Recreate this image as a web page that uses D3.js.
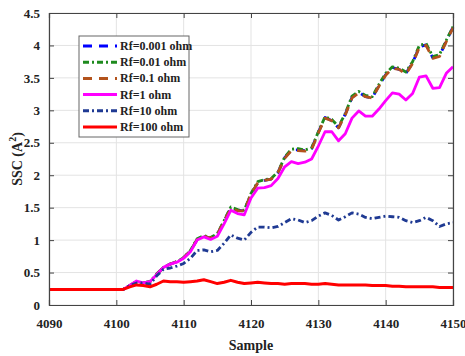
<!DOCTYPE html>
<html>
<head>
<meta charset="utf-8">
<script src="https://cdn.jsdelivr.net/npm/d3@7"></script>
<style>
  body { margin: 0; background: #fff; }
  svg text { font-family: "Liberation Serif", "Times New Roman", serif; font-weight: bold; }
</style>
</head>
<body>
<svg id="chart" width="465" height="356"></svg>
<script>
// data
const samples = d3.range(4090, 4151);
const flat = [0.24, 0.24, 0.24, 0.24, 0.24, 0.24, 0.24, 0.24, 0.24, 0.24, 0.24, 0.24]; // 4090..4101

const rf0001 = flat.concat([0.30, 0.36, 0.34, 0.36, 0.47, 0.58, 0.63, 0.67, 0.73, 0.83, 1.01, 1.06, 1.03, 1.09, 1.29, 1.50, 1.46, 1.45, 1.71, 1.88, 1.92, 1.94, 2.04, 2.27, 2.39, 2.39, 2.38, 2.41, 2.66, 2.89, 2.84, 2.73, 2.94, 3.20, 3.28, 3.21, 3.19, 3.38, 3.55, 3.66, 3.63, 3.57, 3.73, 3.98, 4.01, 3.81, 3.84, 4.07, 4.28]);
const rf001 = flat.concat([0.30, 0.36, 0.34, 0.36, 0.48, 0.58, 0.63, 0.67, 0.73, 0.84, 1.02, 1.07, 1.04, 1.10, 1.30, 1.51, 1.47, 1.46, 1.72, 1.90, 1.93, 1.95, 2.05, 2.28, 2.40, 2.41, 2.39, 2.42, 2.67, 2.90, 2.86, 2.75, 2.95, 3.22, 3.29, 3.23, 3.21, 3.40, 3.57, 3.67, 3.65, 3.59, 3.75, 4.00, 4.03, 3.83, 3.86, 4.08, 4.29]);
const rf01 = flat.concat([0.30, 0.36, 0.34, 0.36, 0.47, 0.58, 0.63, 0.67, 0.73, 0.83, 1.01, 1.06, 1.03, 1.09, 1.29, 1.49, 1.45, 1.45, 1.71, 1.88, 1.92, 1.94, 2.04, 2.26, 2.38, 2.38, 2.37, 2.40, 2.65, 2.88, 2.84, 2.73, 2.93, 3.19, 3.27, 3.21, 3.19, 3.37, 3.54, 3.65, 3.63, 3.56, 3.72, 3.97, 4.00, 3.80, 3.83, 4.06, 4.27]);
const rf1 = flat.concat([0.30, 0.37, 0.34, 0.36, 0.47, 0.58, 0.63, 0.66, 0.72, 0.82, 1.00, 1.05, 1.01, 1.06, 1.25, 1.46, 1.41, 1.39, 1.65, 1.80, 1.81, 1.84, 1.95, 2.13, 2.21, 2.18, 2.20, 2.25, 2.45, 2.67, 2.67, 2.53, 2.64, 2.88, 2.99, 2.91, 2.91, 3.02, 3.15, 3.27, 3.25, 3.16, 3.26, 3.51, 3.53, 3.34, 3.35, 3.57, 3.67]);
const rf10 = flat.concat([0.30, 0.34, 0.34, 0.32, 0.45, 0.55, 0.57, 0.60, 0.64, 0.72, 0.84, 0.85, 0.82, 0.84, 0.95, 1.08, 1.03, 1.00, 1.12, 1.20, 1.20, 1.19, 1.21, 1.27, 1.33, 1.31, 1.27, 1.30, 1.37, 1.42, 1.38, 1.31, 1.36, 1.42, 1.40, 1.35, 1.33, 1.35, 1.37, 1.36, 1.35, 1.30, 1.27, 1.30, 1.35, 1.30, 1.21, 1.25, 1.27]);
const rf100 = flat.concat([0.28, 0.31, 0.30, 0.28, 0.32, 0.37, 0.36, 0.36, 0.35, 0.36, 0.37, 0.39, 0.36, 0.33, 0.35, 0.38, 0.35, 0.33, 0.34, 0.35, 0.34, 0.33, 0.33, 0.32, 0.33, 0.33, 0.33, 0.32, 0.32, 0.33, 0.32, 0.31, 0.31, 0.31, 0.31, 0.31, 0.30, 0.30, 0.30, 0.29, 0.29, 0.28, 0.28, 0.28, 0.28, 0.28, 0.27, 0.27, 0.27]);

const seriesNames = ["Rf=0.001 ohm", "Rf=0.01 ohm", "Rf=0.1 ohm", "Rf=1 ohm", "Rf=10 ohm", "Rf=100 ohm"];
const seriesValues = [rf0001, rf001, rf01, rf1, rf10, rf100];
const seriesColors = ["#0000ff", "#1e8a1e", "#b3531c", "#ff00ff", "#1f3a93", "#ff0000"];
const seriesDash = ["9,7", "6,3,2,3", "9,7", null, "6,3,2,3", null];

const xTicks = d3.range(4090, 4151, 10);
const yTicks = d3.range(0, 4.51, 0.5);

// layout
const svg = d3.select("#chart");
const mLeft = 49, mRight = 453, mTop = 13, mBottom = 305;

const x = d3.scaleLinear().domain([4090, 4150]).range([mLeft, mRight]);
const y = d3.scaleLinear().domain([0, 4.5]).range([mBottom, mTop]);

// grid
svg.append("g").selectAll("line").data(xTicks).enter().append("line")
  .attr("x1", d => x(d)).attr("x2", d => x(d))
  .attr("y1", mTop).attr("y2", mBottom)
  .attr("stroke", "#e3e3e3").attr("stroke-width", 1);
svg.append("g").selectAll("line").data(yTicks).enter().append("line")
  .attr("x1", mLeft).attr("x2", mRight)
  .attr("y1", d => y(d)).attr("y2", d => y(d))
  .attr("stroke", "#e3e3e3").attr("stroke-width", 1);

// lines
const line = d3.line().x((d, i) => x(samples[i])).y(d => y(d));
seriesValues.forEach((vals, k) => {
  svg.append("path")
    .datum(vals)
    .attr("d", line)
    .attr("fill", "none")
    .attr("stroke", seriesColors[k])
    .attr("stroke-width", k === 5 ? 3 : 2.8)
    .attr("stroke-dasharray", seriesDash[k])
    .attr("stroke-linejoin", "round");
});

// axes (ticks inside)
const axColor = "#444";
svg.append("g").attr("transform", `translate(0,${mBottom})`)
  .call(d3.axisBottom(x).tickValues(xTicks).tickSize(-5).tickPadding(14).tickFormat(d3.format("d")));
svg.append("g").attr("transform", `translate(${mLeft},0)`)
  .call(d3.axisLeft(y).tickValues(yTicks).tickSize(-5).tickPadding(9).tickFormat(d => d3.format("")(d)));
svg.append("g").attr("transform", `translate(0,${mTop})`)
  .call(d3.axisTop(x).tickValues(xTicks).tickSize(-5).tickFormat(""));
svg.append("g").attr("transform", `translate(${mRight},0)`)
  .call(d3.axisRight(y).tickValues(yTicks).tickSize(-5).tickFormat(""));

svg.selectAll(".domain").attr("stroke", axColor).attr("stroke-width", 1.2);
svg.selectAll(".tick line").attr("stroke", axColor);
svg.selectAll(".tick text").attr("fill", "#222").style("font-size", "13px");

// axis labels
svg.append("text")
  .attr("x", (mLeft + mRight) / 2).attr("y", 350)
  .attr("text-anchor", "middle")
  .style("font-size", "14px").attr("fill", "#222")
  .text("Sample");

const yl = svg.append("text")
  .attr("transform", "translate(22,159) rotate(-90)")
  .attr("text-anchor", "middle")
  .style("font-size", "14px").attr("fill", "#222");
yl.append("tspan").text("SSC (A");
yl.append("tspan").attr("dy", -6).style("font-size", "10px").text("2");
yl.append("tspan").attr("dy", 6).text(")");

// legend
const lg = svg.append("g");
lg.append("rect")
  .attr("x", 79).attr("y", 36).attr("width", 110).attr("height", 101)
  .attr("fill", "#fff").attr("stroke", "#666").attr("stroke-width", 1);
seriesNames.forEach((name, k) => {
  const ly = 46 + k * 16.2;
  lg.append("line")
    .attr("x1", 83).attr("x2", 117).attr("y1", ly).attr("y2", ly)
    .attr("stroke", seriesColors[k])
    .attr("stroke-width", 3)
    .attr("stroke-dasharray", seriesDash[k]);
  lg.append("text")
    .attr("x", 120).attr("y", ly + 4)
    .style("font-size", "12px").attr("fill", "#222")
    .text(name);
});
</script>
</body>
</html>
